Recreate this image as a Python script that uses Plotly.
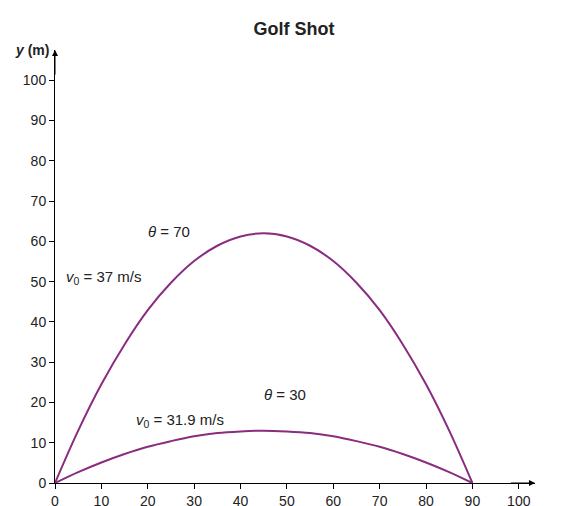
import plotly.graph_objects as go

# points
x_vals = [0, 5, 10, 15, 20, 25, 30, 35, 40, 45, 50, 55, 60, 65, 70, 75, 80, 85, 90]
y_70 = [0, 13.0, 24.5, 34.4, 42.9, 49.7, 55.1, 58.9, 61.2, 62, 61.2, 58.9, 55.1, 49.7, 42.9, 34.4, 24.5, 13.0, 0]
y_30 = [0, 2.7, 5.1, 7.2, 9.0, 10.4, 11.6, 12.4, 12.8, 13, 12.8, 12.4, 11.6, 10.4, 9.0, 7.2, 5.1, 2.7, 0]
tick_vals = [0, 10, 20, 30, 40, 50, 60, 70, 80, 90, 100]

purple = '#8a2c7f'

fig = go.Figure()
for ys in [y_70, y_30]:
    fig.add_trace(go.Scatter(x=x_vals, y=ys, mode='lines', line=dict(color=purple, width=2, shape='spline'),
                             showlegend=False, hoverinfo='skip'))

# axis arrows
fig.add_annotation(x=103.5, y=0, ax=98, ay=0, xref='x', yref='y', axref='x', ayref='y',
                   showarrow=True, arrowhead=2, arrowsize=1.2, arrowwidth=1, arrowcolor='black', text='')
fig.add_annotation(x=0, y=107.5, ax=0, ay=101, xref='x', yref='y', axref='x', ayref='y',
                   showarrow=True, arrowhead=2, arrowsize=1.2, arrowwidth=1, arrowcolor='black', text='')

labels = [
    (24.5, 62.5, '<i>θ</i> = 70'),
    (10.5, 51, '<i>v</i><sub>0</sub> = 37 m/s'),
    (49.5, 22, '<i>θ</i> = 30'),
    (27, 15.5, '<i>v</i><sub>0</sub> = 31.9 m/s'),
]
for lx, ly, t in labels:
    fig.add_annotation(x=lx, y=ly, text=t, showarrow=False, xref='x', yref='y',
                       font=dict(size=15, color='#222'))
fig.add_annotation(x=104, y=0, text='<b><i>x</i> (m)</b>', showarrow=False, xref='x', yref='y',
                   xanchor='left', yanchor='top', yshift=12, font=dict(size=14, color='#222'))
fig.add_annotation(x=0, y=107.5, text='<b><i>y</i> (m)</b>', showarrow=False, xref='x', yref='y',
                   xanchor='right', xshift=-4, font=dict(size=14, color='#222'))

fig.update_layout(
    width=572, height=506,
    title=dict(text='<b>Golf Shot</b>', x=0.5, xanchor='center', y=0.972, font=dict(size=18, color='#222')),
    font=dict(family='Liberation Sans, Arial', size=14, color='#222'),
    plot_bgcolor='white', paper_bgcolor='white',
    margin=dict(l=47, r=45, t=42, b=31),
    xaxis=dict(range=[0, 103.5], tickvals=tick_vals, showgrid=False, zeroline=False, automargin=False,
               showline=True, linecolor='black', ticks='outside', ticklen=5, tickcolor='black'),
    yaxis=dict(range=[0, 107.5], tickvals=tick_vals, showgrid=False, zeroline=False, automargin=False,
               showline=True, linecolor='black', ticks='outside', ticklen=5, tickcolor='black'),
)

fig.write_html('out.html')
